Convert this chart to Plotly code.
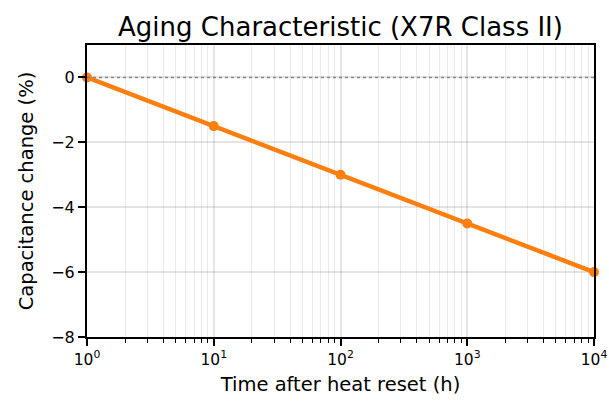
import plotly.graph_objects as go

hours = [1, 10, 100, 1000, 10000]
cap_change = [0.0, -1.5, -3.0, -4.5, -6.0]
x_tickvals = [1, 10, 100, 1000, 10000]
x_ticktext = ["10<sup>0</sup>", "10<sup>1</sup>", "10<sup>2</sup>", "10<sup>3</sup>", "10<sup>4</sup>"]
x_minor = [m * d for d in [1, 10, 100, 1000] for m in range(2, 10)]
y_tickvals = [-8, -6, -4, -2, 0]
y_ticktext = ["\u22128", "\u22126", "\u22124", "\u22122", "0"]

W, H = 609, 404
L, R, T, B = 87, 15, 45, 67

fig = go.Figure()
fig.add_trace(go.Scatter(
    x=hours, y=cap_change, mode="lines+markers",
    line=dict(color="#ff7f0e", width=4.5),
    marker=dict(color="#ff7f0e", size=10),
    cliponaxis=False, showlegend=False,
))
fig.add_hline(y=0, line=dict(color="gray", width=1.5, dash="dot"), opacity=0.9)

font = "DejaVu Sans"
fig.update_layout(
    width=W, height=H,
    margin=dict(l=L, r=R, t=T, b=B),
    paper_bgcolor="white", plot_bgcolor="white",
    font=dict(family=font, size=15, color="black"),
    title=dict(text="Aging Characteristic (X7R Class II)", x=(L + W - R) / 2 / W, xanchor="center",
               y=1 - 27 / H, yanchor="middle",
               font=dict(family=font, size=26)),
)
fig.update_xaxes(
    type="log", range=[-0.0001, 4.0001], automargin=False,
    tickvals=x_tickvals, ticktext=x_ticktext, ticklabeloverflow="allow",
    ticks="outside", ticklen=7, tickwidth=1.6, tickcolor="black",
    tickfont=dict(family=font, size=15.5),
    showline=True, linecolor="black", linewidth=2, mirror=True,
    showgrid=True, gridcolor="rgba(0,0,0,0.1)", gridwidth=1.5,
    minor=dict(ticks="outside", ticklen=4, tickwidth=1.2, tickcolor="black", tickvals=x_minor,
               showgrid=True, gridcolor="rgba(0,0,0,0.08)", gridwidth=1.3),
    title=dict(text="Time after heat reset (h)", standoff=10, font=dict(family=font, size=19.5)),
    zeroline=False,
)
fig.update_yaxes(
    range=[-8, 1], automargin=False,
    tickvals=y_tickvals, ticktext=y_ticktext,
    ticks="outside", ticklen=7, tickwidth=1.6, tickcolor="black",
    tickfont=dict(family=font, size=16),
    showline=True, linecolor="black", linewidth=2, mirror=True,
    showgrid=True, gridcolor="rgba(0,0,0,0.1)", gridwidth=1.5,
    title=dict(text="Capacitance change (%)", standoff=12, font=dict(family=font, size=19.5)),
    zeroline=False,
)
fig.write_html("out.html", config={"displayModeBar": False},
               post_script="document.body.style.margin='0';document.body.style.overflow='hidden';")
